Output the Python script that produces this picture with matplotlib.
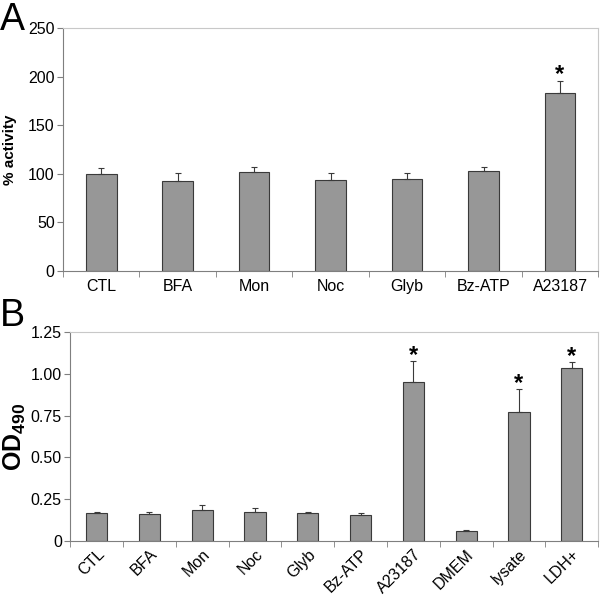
import numpy as np
import matplotlib.pyplot as plt

plt.rcParams["font.family"] = ["Liberation Sans", "DejaVu Sans"]
plt.rcParams["mathtext.fontset"] = "custom"
plt.rcParams["mathtext.bf"] = "Liberation Sans:bold"
plt.rcParams["mathtext.rm"] = "Liberation Sans"

# Panel A data
cats_a = ["CTL", "BFA", "Mon", "Noc", "Glyb", "Bz-ATP", "A23187"]
vals_a = [100, 93, 102, 94, 95, 103, 183]
err_a = [6, 8, 5, 7, 6, 4, 13]
star_a = [False, False, False, False, False, False, True]

# Panel B data
cats_b = ["CTL", "BFA", "Mon", "Noc", "Glyb", "Bz-ATP", "A23187", "DMEM", "lysate", "LDH+"]
vals_b = [0.166, 0.160, 0.185, 0.175, 0.165, 0.155, 0.950, 0.062, 0.774, 1.037]
err_b = [0.010, 0.012, 0.028, 0.025, 0.010, 0.015, 0.125, 0.004, 0.135, 0.033]
star_b = [False, False, False, False, False, False, True, False, True, True]

bar_color = "#979797"
edge_color = "#3a3a3a"


def style_axes(ax):
    ax.spines["left"].set_color("#7f7f7f")
    ax.spines["bottom"].set_color("#7f7f7f")
    ax.spines["top"].set_color("#c8c8c8")
    ax.spines["right"].set_color("#c8c8c8")
    ax.tick_params(axis="y", direction="out", length=4, color="#7f7f7f", labelsize=11.5, pad=2)
    ax.tick_params(axis="x", which="minor", direction="out", length=4, color="#7f7f7f")
    ax.tick_params(axis="x", which="major", length=0, labelsize=11.5, pad=6)


def draw_panel(ax, cats, vals, errs, stars, star_pad):
    x = np.arange(len(cats))
    ax.bar(x, vals, width=0.4, color=bar_color, edgecolor=edge_color, linewidth=0.8, zorder=2)
    ax.errorbar(x, vals, yerr=[np.zeros(len(errs)), errs], fmt="none",
                ecolor=edge_color, elinewidth=0.8, capsize=2.5, capthick=0.8, zorder=3)
    for xi, v, e, s in zip(x, vals, errs, stars):
        if s:
            ax.annotate("*", (xi, v + e), xytext=(0, star_pad), textcoords="offset points",
                        ha="center", va="bottom", fontsize=17, fontweight="bold")
    ax.set_xlim(-0.5, len(cats) - 0.5)
    ax.set_xticks(x)
    ax.set_xticks(np.arange(len(cats) + 1) - 0.5, minor=True)
    style_axes(ax)


fig = plt.figure(figsize=(6.0, 5.99), dpi=100)

# Panel A
ax1 = fig.add_axes([0.105, 0.5476, 0.892, 0.4054])
draw_panel(ax1, cats_a, vals_a, err_a, star_a, -4)
ax1.set_ylim(0, 250)
ax1.set_yticks([0, 50, 100, 150, 200, 250])
ax1.set_xticklabels(cats_a)
ax1.set_ylabel("% activity", fontsize=11, fontweight="bold", labelpad=8)
fig.text(0.0, 0.997, "A", fontsize=27, ha="left", va="top")

# Panel B
ax2 = fig.add_axes([0.117, 0.0968, 0.880, 0.3489])
draw_panel(ax2, cats_b, vals_b, err_b, star_b, -4)
ax2.set_ylim(0, 1.25)
ax2.set_yticks([0, 0.25, 0.5, 0.75, 1.0, 1.25])
ax2.set_yticklabels(["0", "0.25", "0.50", "0.75", "1.00", "1.25"])
ax2.set_xticklabels(cats_b, rotation=45, ha="right", rotation_mode="anchor")
ax2.tick_params(axis="x", which="major", pad=4)
ax2.set_ylabel(r"$\mathbf{OD_{490}}$", fontsize=18, va="center")
ax2.yaxis.set_label_coords(-0.104, 0.5)
fig.text(0.0, 0.503, "B", fontsize=27, ha="left", va="top")

plt.savefig("out.png", dpi=100)
plt.close()
